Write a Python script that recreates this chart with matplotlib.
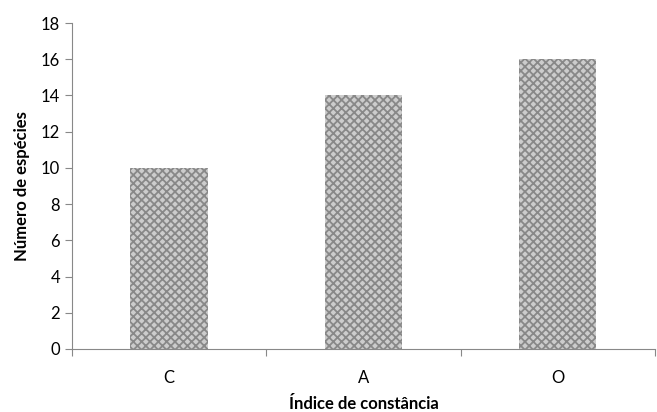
import matplotlib.pyplot as plt
import matplotlib as mpl

categories = ["C", "A", "O"]
values = [10, 14, 16]

plt.rcParams['font.family'] = ['Lato', 'DejaVu Sans']
mpl.rcParams['hatch.linewidth'] = 1.3
mpl.rcParams['hatch.color'] = '#888888'

fig = plt.figure(figsize=(6.57, 4.12), dpi=100)
ax = fig.add_axes([0.1096, 0.153, 0.887, 0.791])

x = range(len(categories))
ax.bar(x, values, width=0.4, color='#cccccc', edgecolor='#888888',
       hatch='xxxx', linewidth=0)

ax.set_xlim(-0.5, len(categories) - 0.5)
ax.set_ylim(0, 18)
ax.set_yticks(range(0, 19, 2))

ax.set_xticks([i - 0.5 for i in range(len(categories) + 1)])
ax.set_xticklabels([])
ax.set_xticks(list(x), minor=True)
ax.set_xticklabels(categories, minor=True)
ax.tick_params(axis='x', which='minor', length=0, pad=15, labelsize=12)
ax.tick_params(axis='x', which='major', length=5, color='#888888')
ax.tick_params(axis='y', length=5, color='#888888', labelsize=12)

for s in ['top', 'right']:
    ax.spines[s].set_visible(False)
for s in ['left', 'bottom']:
    ax.spines[s].set_color('#888888')

ax.set_xlabel("Índice de constância", fontweight='bold', fontsize=12, labelpad=7)
ax.set_ylabel("Número de espécies", fontweight='bold', fontsize=12, labelpad=8)

fig.savefig("out.png")
